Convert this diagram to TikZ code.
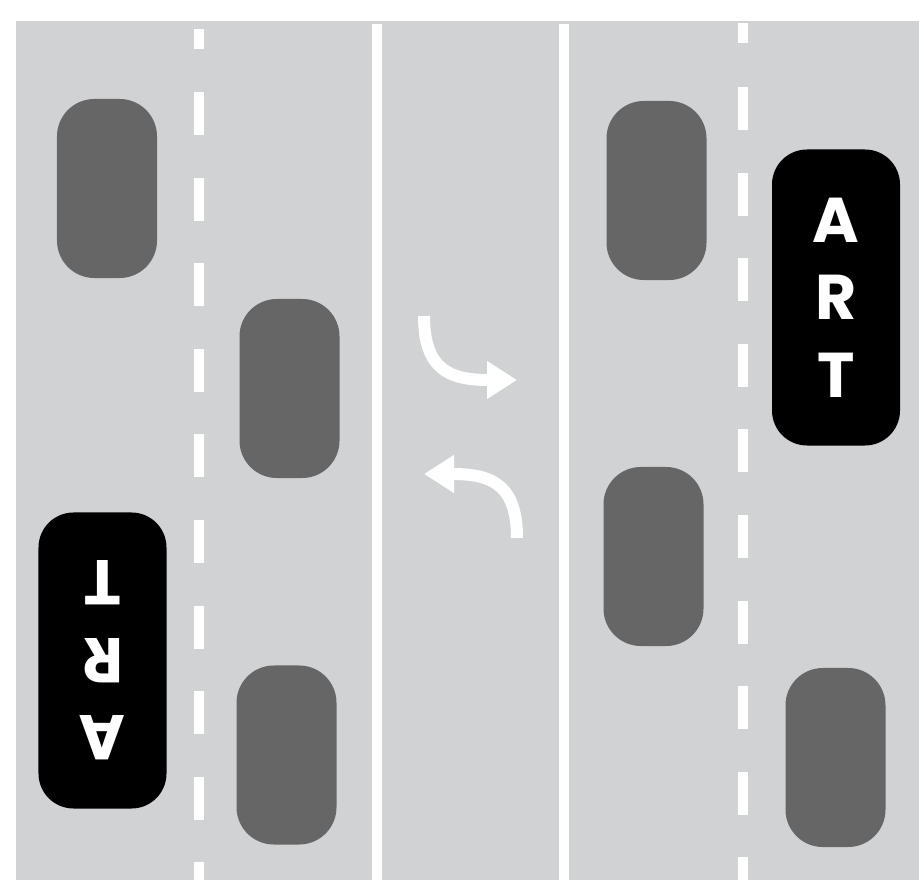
\documentclass[tikz,border=0pt]{standalone}
\usepackage{fontspec}
\newfontfamily\busfont{Poppins}
\usepackage{xcolor}
\usetikzlibrary{arrows.meta,positioning}
\definecolor{asphalt}{HTML}{D1D2D4}
\definecolor{cargray}{HTML}{666666}
\tikzset{
  car/.style={fill=cargray, rounded corners=1.12cm, minimum width=3cm,
    minimum height=5.37cm, inner sep=0pt},
  bus/.style={fill=black, text=white, rounded corners=1.05cm, minimum width=3.84cm,
    minimum height=8.88cm, inner sep=0pt, align=center,
    font=\busfont\bfseries\fontsize{54}{66}\selectfont},
  turn/.style={white, line width=0.36cm, -{Triangle[length=0.9cm,width=1.08cm]}}
}

\begin{document}
\begin{tikzpicture}[x=0.03cm,y=-0.03cm]
\useasboundingbox (0,0) rectangle (919,880);
\fill[asphalt] (16,21) rectangle (919,880);
% solid centre lines
\fill[white] (372,24) rectangle (382,880);
\fill[white] (559,24) rectangle (569,880);
% dashed lane lines
\fill[white] (194,29) rectangle (204,49);
\fill[white] (738,23) rectangle (748,43);
\foreach \k in {0,...,9}{
  \fill[white] (194,92+85.6*\k) rectangle (204,135+85.6*\k);
  \fill[white] (738,87+85.6*\k) rectangle (748,130+85.6*\k);
}
% cars
\node[car] (carA) at (107,188.5) {};
\node[car] (carB) at (289.5,388.5) {};
\node[car] (carC) at (286.5,755) {};
\node[car] (carD) at (656.5,190.5) {};
\node[car] (carE) at (653.5,556.5) {};
\node[car] (carF) at (835.5,757.5) {};
% buses
\node[bus] (busR) at (836,297.5) {A\\R\\T};
\node[bus, rotate=180] (busL) at (102.5,660.5) {A\\R\\T};
% turn arrows
\draw[turn] (424,316) .. controls (424,370) and (450,380) .. (517,380);
\draw[turn] (517,538) .. controls (517,484) and (491,474) .. (424,474);
\end{tikzpicture}
\end{document}
